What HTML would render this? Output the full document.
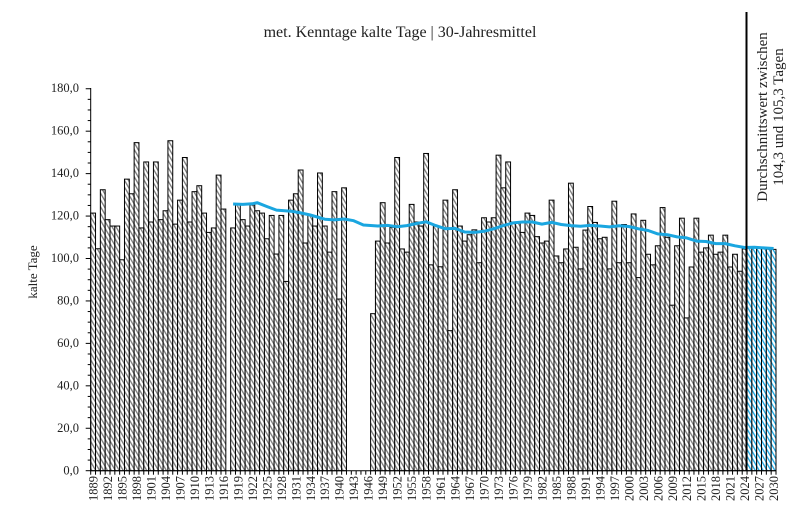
<!DOCTYPE html>
<html><head><meta charset="utf-8"><style>
html,body{margin:0;padding:0;background:#fff;}
svg{display:block;font-family:"Liberation Serif",serif;}
</style></head><body>
<svg id="s" width="800" height="529" viewBox="0 0 800 529" xmlns="http://www.w3.org/2000/svg">
<defs>
<pattern id="h" patternUnits="userSpaceOnUse" width="3.4" height="3.4" patternTransform="rotate(-30)">
<rect width="3.4" height="3.4" fill="#fff"/><rect width="1.3" height="3.4" fill="#7a7a7a"/></pattern>
<pattern id="hb" patternUnits="userSpaceOnUse" width="3.4" height="3.4" patternTransform="rotate(-30)">
<rect width="3.4" height="3.4" fill="#fff"/><rect width="1.3" height="3.4" fill="#1aa6e0"/></pattern>
</defs>
<text x="400" y="37" font-size="16" text-anchor="middle" fill="#222">met. Kenntage kalte Tage | 30-Jahresmittel</text>
<g id="bars"></g>
<g id="ax" stroke="#000" stroke-width="1"></g>
<polyline id="avg" fill="none" stroke="#1aa6e0" stroke-width="3" stroke-linejoin="round"/>
<line x1="746.5" y1="12" x2="746.5" y2="471" stroke="#000" stroke-width="2"/>
<g font-size="12.5" text-anchor="end" fill="#222">
<text x="79" y="474.5">0,0</text><text x="79" y="432">20,0</text><text x="79" y="389.5">40,0</text>
<text x="79" y="347">60,0</text><text x="79" y="304.5">80,0</text><text x="79" y="262">100,0</text>
<text x="79" y="219.5">120,0</text><text x="79" y="177">140,0</text><text x="79" y="134.5">160,0</text>
<text x="79" y="92">180,0</text>
</g>
<text transform="translate(37,272) rotate(-90)" font-size="13" text-anchor="middle" fill="#222">kalte Tage</text>
<text transform="translate(767,117) rotate(-90)" font-size="15" text-anchor="middle" fill="#222">Durchschnittswert zwischen</text>
<text transform="translate(783,117) rotate(-90)" font-size="15" text-anchor="middle" fill="#222">104,3 und 105,3 Tagen</text>
<g font-size="12.5" text-anchor="end" fill="#222" id="xl">
<text transform="translate(97.5,476) rotate(-90)">1889</text>
<text transform="translate(112,476) rotate(-90)">1892</text>
<text transform="translate(126.5,476) rotate(-90)">1895</text>
<text transform="translate(141,476) rotate(-90)">1898</text>
<text transform="translate(155.5,476) rotate(-90)">1901</text>
<text transform="translate(170,476) rotate(-90)">1904</text>
<text transform="translate(184.4,476) rotate(-90)">1907</text>
<text transform="translate(198.9,476) rotate(-90)">1910</text>
<text transform="translate(213.4,476) rotate(-90)">1913</text>
<text transform="translate(227.9,476) rotate(-90)">1916</text>
<text transform="translate(242.4,476) rotate(-90)">1919</text>
<text transform="translate(256.8,476) rotate(-90)">1922</text>
<text transform="translate(271.3,476) rotate(-90)">1925</text>
<text transform="translate(285.8,476) rotate(-90)">1928</text>
<text transform="translate(300.3,476) rotate(-90)">1931</text>
<text transform="translate(314.8,476) rotate(-90)">1934</text>
<text transform="translate(329.2,476) rotate(-90)">1937</text>
<text transform="translate(343.7,476) rotate(-90)">1940</text>
<text transform="translate(358.2,476) rotate(-90)">1943</text>
<text transform="translate(372.7,476) rotate(-90)">1946</text>
<text transform="translate(387.2,476) rotate(-90)">1949</text>
<text transform="translate(401.6,476) rotate(-90)">1952</text>
<text transform="translate(416.1,476) rotate(-90)">1955</text>
<text transform="translate(430.6,476) rotate(-90)">1958</text>
<text transform="translate(445.1,476) rotate(-90)">1961</text>
<text transform="translate(459.6,476) rotate(-90)">1964</text>
<text transform="translate(474,476) rotate(-90)">1967</text>
<text transform="translate(488.5,476) rotate(-90)">1970</text>
<text transform="translate(503,476) rotate(-90)">1973</text>
<text transform="translate(517.5,476) rotate(-90)">1976</text>
<text transform="translate(532,476) rotate(-90)">1979</text>
<text transform="translate(546.4,476) rotate(-90)">1982</text>
<text transform="translate(560.9,476) rotate(-90)">1985</text>
<text transform="translate(575.4,476) rotate(-90)">1988</text>
<text transform="translate(589.9,476) rotate(-90)">1991</text>
<text transform="translate(604.4,476) rotate(-90)">1994</text>
<text transform="translate(618.8,476) rotate(-90)">1997</text>
<text transform="translate(633.3,476) rotate(-90)">2000</text>
<text transform="translate(647.8,476) rotate(-90)">2003</text>
<text transform="translate(662.3,476) rotate(-90)">2006</text>
<text transform="translate(676.8,476) rotate(-90)">2009</text>
<text transform="translate(691.2,476) rotate(-90)">2012</text>
<text transform="translate(705.7,476) rotate(-90)">2015</text>
<text transform="translate(720.2,476) rotate(-90)">2018</text>
<text transform="translate(734.7,476) rotate(-90)">2021</text>
<text transform="translate(749.2,476) rotate(-90)">2024</text>
<text transform="translate(763.6,476) rotate(-90)">2027</text>
<text transform="translate(778.1,476) rotate(-90)">2030</text>
</g>
</svg>
<script>
var d=[121.4,104.6,132.4,118.3,115.3,115.3,99.4,137.4,130.5,154.6,114.4,145.5,117.2,145.5,118.3,122.5,155.5,116.2,127.5,147.6,117.2,131.5,134.3,121.4,112.3,114.4,139.3,123.3,
0,
114.4,125.7,118.3,115.3,125.2,122.5,121.4,109.3,120.3,102.1,120.3,89.2,127.5,130.5,141.7,107.3,120.4,115.3,140.3,115.3,103,131.5,80.9,133.3,
0,0,0,0,0,74,
108.2,126.3,107.3,114.7,147.6,104.5,103,125.5,117.2,115.3,149.5,97,115.3,96.1,127.5,66,132.4,115.3,108.2,111.2,113.5,98,119.2,117.2,119.2,148.7,133.3,145.5,117.2,117.2,112.3,121.4,120.3,110.3,107.3,108.2,127.5,101.2,
98,104.5,135.5,105.3,95.1,113.4,124.5,117,109.3,110,95.1,127,98,116,98,121,91,118,102,97,106,124,110,78,106,119,72,96,119,103,105,111,102,103,111,96,102,94,
104.5,105.3,105,104.8,104.6,104.4,104.3];
var X0=90.7,W=4.826,B=470.7,K=2.122,ns="http://www.w3.org/2000/svg";
var g=document.getElementById('bars'),ax=document.getElementById('ax');
function el(t,a,p){var e=document.createElementNS(ns,t);for(var k in a)e.setAttribute(k,a[k]);p.appendChild(e);return e;}
for(var i=0;i<d.length;i++){var v=d[i];if(v<=0)continue;var x=X0+i*W,y=B-v*K;
el('rect',{x:x,y:y,width:W,height:v*K,fill:i>=136?'url(#hb)':'url(#h)',stroke:'#000','stroke-width':1},g);}
el('line',{x1:X0,y1:88,x2:X0,y2:B},ax);
el('line',{x1:X0,y1:B,x2:776.5,y2:B},ax);
for(var v=0;v<=180;v+=5){var y=B-v*K;el('line',{x1:X0-(v%20==0?5:3),y1:y,x2:X0,y2:y},ax);}
for(var i=0;i<=142;i++){var x=X0+i*W;el('line',{x1:x,y1:B,x2:x,y2:B+4},ax);}
var a=[[1918,125.7],[1920,125.5],[1922,125.8],[1923,126.3],[1925,124.5],[1927,122.8],[1930,122.3],[1932,121.5],[1934,120.5],[1937,118.5],[1939,118.2],[1941,118.6],[1943,117.8],[1945,115.8],[1948,115.3],[1950,115.6],[1952,115],[1954,115.5],[1956,116.5],[1958,117.3],[1960,115.5],[1962,114],[1964,114.2],[1966,112.5],[1968,112.3],[1970,112.8],[1972,114],[1974,115.5],[1976,116.8],[1978,117.2],[1980,117.2],[1982,116.2],[1984,117],[1986,116],[1988,115.5],[1990,115.2],[1992,115.6],[1994,115.3],[1996,114.9],[1998,115.4],[2000,115.1],[2002,114],[2004,113.2],[2006,111.6],[2008,111.2],[2010,110.2],[2012,109.7],[2014,108.2],[2016,108],[2018,107],[2020,107],[2022,106],[2024,105.2],[2026,105.3],[2028,105],[2030,104.7]];
var pts=a.map(function(p){return (X0+(p[0]-1889+0.5)*W).toFixed(1)+','+(B-p[1]*K).toFixed(1);}).join(' ');
document.getElementById('avg').setAttribute('points',pts);
</script>
</body></html>
